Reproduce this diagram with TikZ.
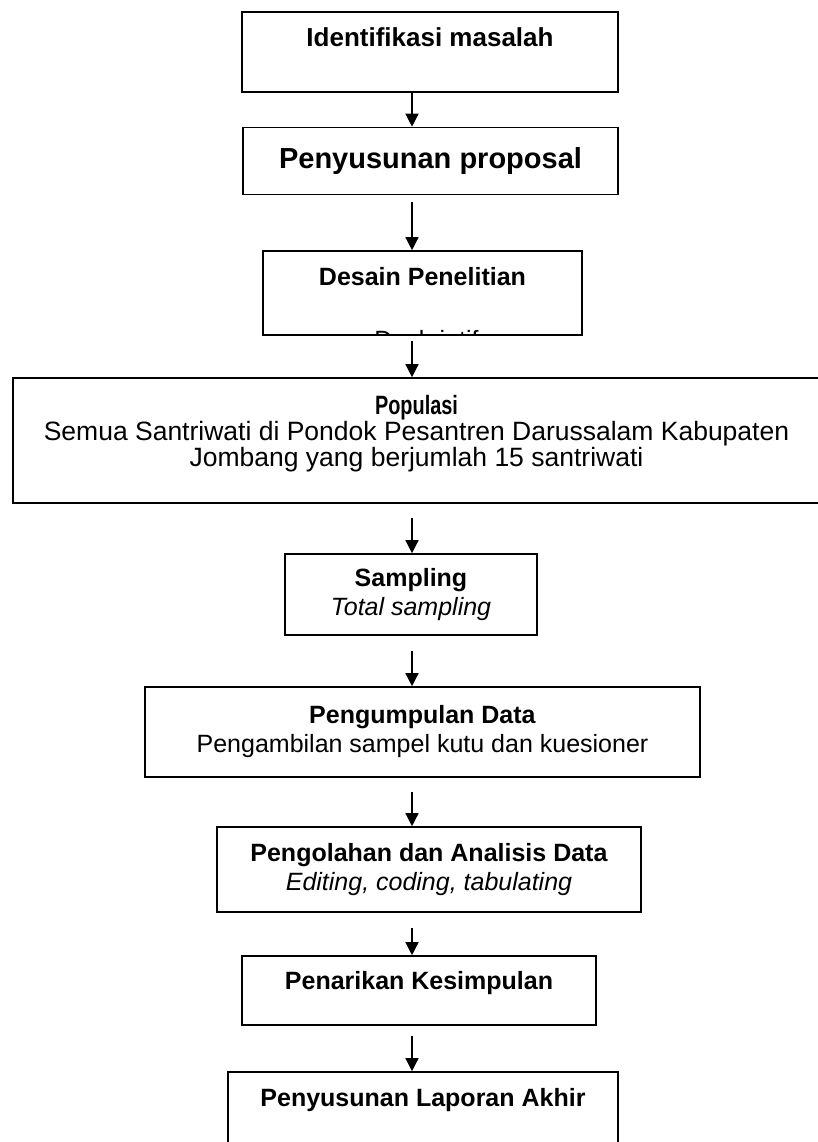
\documentclass[tikz,border=0pt]{standalone}
\usepackage{fontspec}
\setmainfont{Liberation Sans}
\newfontfamily\sempit{Liberation Sans}[FakeStretch=0.75]
\usetikzlibrary{arrows.meta,calc}
\tikzset{
    >={Triangle[length=13pt,width=13pt]},
    kotak/.style={
           rectangle,
           draw=black, line width=1.6pt,
           inner sep=0pt,
           align=center},
    panah/.style={
           ->,
           line width=1.4pt}
}

\begin{document}
\begin{tikzpicture}[x=1pt,y=-1pt]
          \clip (0,0) rectangle (818,1142);
          \fontsize{25pt}{29pt}\selectfont
          \coordinate (sumbu) at (412,0);
          \node[kotak, minimum width=376pt, minimum height=80pt, font=\fontsize{26pt}{30pt}\selectfont\bfseries](identifikasi) at (430,52) {Identifikasi masalah\\ ~};
          \node[kotak, minimum width=375pt, minimum height=67pt, font=\fontsize{29pt}{33pt}\selectfont\bfseries](proposal) at (430.5,161) {Penyusunan proposal};
          \node[kotak, minimum width=319pt, minimum height=84pt, font=\bfseries](desain) at (422.5,293) {Desain Penelitian\\[5pt] ~};
          \begin{scope}
            \clip (desain.north west) rectangle (desain.south east);
            \node[anchor=north, inner sep=0pt](deskriptif) at ($(desain.south)+(4,-6)$) {Deskriptif};
          \end{scope}
          \node[kotak, minimum width=807pt, minimum height=125pt, font=\fontsize{26.5pt}{26pt}\selectfont](populasi) at (416.5,440.5) {{\sempit\bfseries Populasi}\\Semua Santriwati di Pondok Pesantren Darussalam Kabupaten\\Jombang yang berjumlah 15 santriwati\\[-7pt] ~};
          \node[kotak, minimum width=252pt, minimum height=81pt](sampling) at (411,594.5) {\textbf{Sampling}\\\textit{Total sampling}};
          \node[kotak, minimum width=555pt, minimum height=90pt](pengumpulan) at (422.5,732) {\textbf{Pengumpulan Data}\\Pengambilan sampel kutu dan kuesioner};
          \node[kotak, minimum width=424pt, minimum height=85pt](pengolahan) at (429,869.5) {\textbf{Pengolahan dan Analisis Data}\\\textit{Editing, coding, tabulating}};
          \node[kotak, minimum width=354pt, minimum height=69pt, font=\bfseries](kesimpulan) at (419,990.5) {Penarikan Kesimpulan\\[-8pt] ~};
          \node[kotak, minimum width=390pt, minimum height=80pt, font=\bfseries](laporan) at (423,1112) {Penyusunan Laporan Akhir\\[1pt] ~};
          \draw[panah] (identifikasi.south -| sumbu) -- (proposal.north -| sumbu);
          \draw[panah] ($(proposal.south -| sumbu)+(0,7)$) -- (desain.north -| sumbu);
          \draw[panah] ($(desain.south -| sumbu)+(0,5)$) -- (populasi.north -| sumbu);
          \draw[panah] ($(populasi.south -| sumbu)+(0,14)$) -- (sampling.north -| sumbu);
          \draw[panah] ($(sampling.south -| sumbu)+(0,15)$) -- (pengumpulan.north -| sumbu);
          \draw[panah] ($(pengumpulan.south -| sumbu)+(0,14)$) -- (pengolahan.north -| sumbu);
          \draw[panah] ($(pengolahan.south -| sumbu)+(0,15)$) -- (kesimpulan.north -| sumbu);
          \draw[panah] ($(kesimpulan.south -| sumbu)+(0,10)$) -- (laporan.north -| sumbu);
\end{tikzpicture}
\end{document}
